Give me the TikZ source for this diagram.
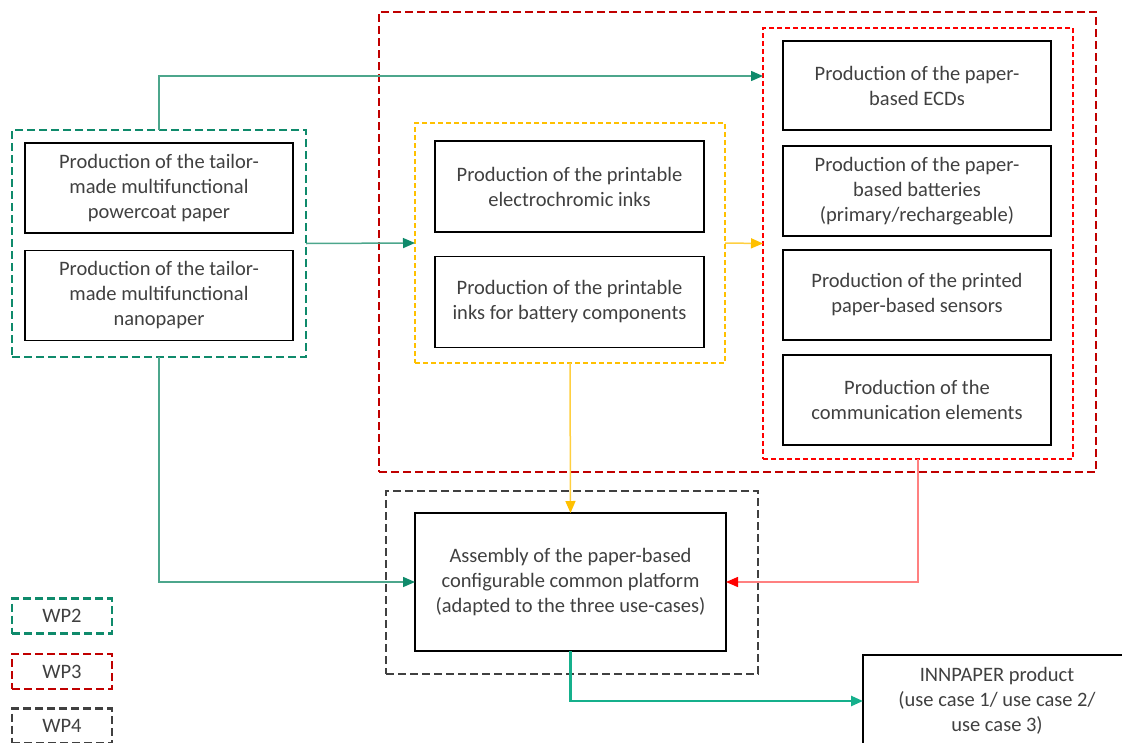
\documentclass[tikz,border=0pt]{standalone}
\usepackage{fontspec}
\setmainfont{Carlito}
\usetikzlibrary{arrows.meta}
\definecolor{wpgreen}{HTML}{0F8A6B}
\definecolor{lnkgreen}{HTML}{4CA68C}
\definecolor{wpred}{HTML}{C00000}
\definecolor{wpyellow}{HTML}{FFC000}
\definecolor{lnkyellow}{HTML}{FFCF40}
\definecolor{wpgray}{HTML}{404040}
\definecolor{lnkred}{HTML}{FF8080}
\definecolor{prodteal}{HTML}{15B08C}
\definecolor{txtgray}{HTML}{404040}
\begin{document}
\begin{tikzpicture}[
  x=1pt, y=-1pt,
  every node/.style={inner sep=0pt, outer sep=0pt, align=center, text=txtgray,
    font=\fontsize{20.5}{25}\selectfont},
  task/.style={draw=black, line width=1.5pt, minimum width=268pt, minimum height=90pt},
  wpbox/.style={draw=#1, line width=2.5pt, dash pattern=on 8pt off 4pt},
  subbox/.style={draw=#1, line width=1.5pt, dash pattern=on 5pt off 3pt},
  link/.style={line width=1.5pt, draw=#1}
]
\useasboundingbox (0,0) rectangle (1122,742);
% work packages
\node[wpbox=wpgreen, minimum width=294pt, minimum height=227pt] (wp2) at (159,243.5) {};
\node[wpbox=wpred, minimum width=717pt, minimum height=460pt] (wp3) at (737.5,242) {};
\node[subbox=wpyellow, minimum width=310pt, minimum height=240pt] (ink) at (570,243) {};
\node[subbox=red, minimum width=310pt, minimum height=431pt] (dev) at (918,243.5) {};
\node[wpbox=wpgray, minimum width=372pt, minimum height=183pt] (wp4) at (572,582.5) {};
% tasks
\node[task] (pcp) at (159,188) {Production of the tailor-\\made multifunctional\\powercoat paper};
\node[task] (nanop) at (159,295.5) {Production of the tailor-\\made multifunctional\\nanopaper};
\node[task, minimum width=269pt, minimum height=91pt] (ecink) at (569.5,186.5) {Production of the printable\\electrochromic inks};
\node[task, minimum width=269pt, minimum height=91pt] (batink) at (569.5,302) {Production of the printable\\inks for battery components};
\node[task, minimum height=89pt] (ecd) at (917,85.5) {Production of the paper-\\based ECDs};
\node[task] (batt) at (917,191) {Production of the paper-\\based batteries\\(primary/rechargeable)};
\node[task] (sens) at (917,295) {Production of the printed\\paper-based sensors};
\node[task] (comm) at (917,400) {Production of the\\communication elements};
\node[task, minimum width=311pt, minimum height=138pt] (asm) at (570.5,582) {Assembly of the paper-based\\configurable common platform\\(adapted to the three use-cases)};
\node[task, minimum height=92pt] (prod) at (997,701) {INNPAPER product\\(use case 1/ use case 2/\\use case 3)};
% legend
\node[wpbox=wpgreen, minimum width=100pt, minimum height=35pt] (l2) at (62,616) {WP2};
\node[wpbox=wpred, minimum width=100pt, minimum height=35pt] (l3) at (62,671.5) {WP3};
\node[wpbox=wpgray, minimum width=100pt, minimum height=35pt] (l4) at (62,726) {WP4};
% flows
\coordinate (ecdin) at (763,76);
\draw[link=lnkgreen, -{Triangle[length=12pt, width=10pt, color=wpgreen]}] (wp2.north) |- (ecdin);
\draw[link=lnkgreen, -{Triangle[length=12pt, width=10pt, color=wpgreen]}] (wp2.east) -- (ink.west);
\draw[link=lnkgreen, -{Triangle[length=12pt, width=10pt, color=wpgreen]}] (wp2.south) |- (asm.west);
\draw[link=lnkyellow, -{Triangle[length=12pt, width=10pt, color=wpyellow]}] (ink.east) -- (dev.west);
\draw[link=lnkyellow, -{Triangle[length=12pt, width=10pt, color=wpyellow]}] (ink.south) -- (asm.north);
\draw[link=lnkred, -{Triangle[length=12pt, width=10pt, color=red]}] (dev.south) |- (asm.east);
\draw[line width=2.5pt, draw=prodteal, -{Triangle[length=12pt, width=10pt]}] (asm.south) |- (prod.west);
\end{tikzpicture}
\end{document}
